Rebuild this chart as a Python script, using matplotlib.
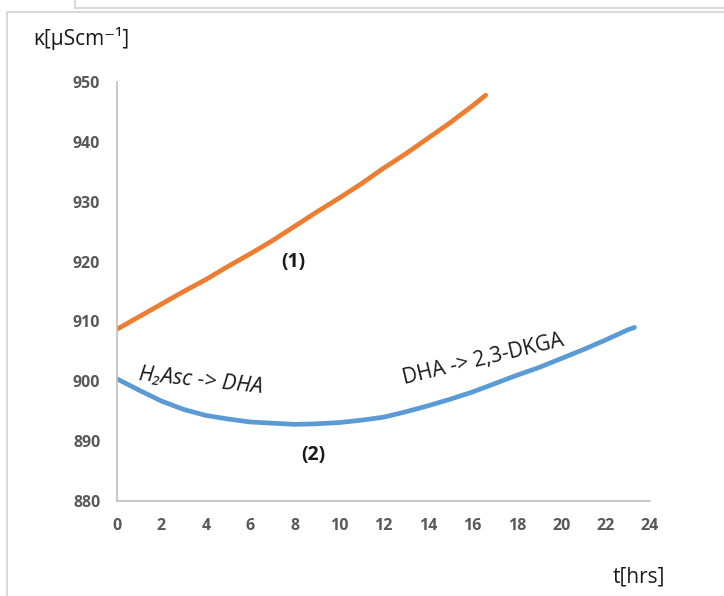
import matplotlib
matplotlib.use("Agg")
import matplotlib.pyplot as plt
from matplotlib.lines import Line2D

# series (1)
t1 = [0, 1, 2, 3, 4, 5, 6, 7, 8, 9, 10, 11, 12, 13, 14, 15, 16, 16.6]
k1 = [908.7, 910.8, 912.9, 915.0, 917.0, 919.2, 921.3, 923.5, 925.9, 928.3,
      930.6, 933.0, 935.6, 938.0, 940.6, 943.2, 946.0, 947.8]

# series (2)
t2 = [0, 1, 2, 3, 4, 5, 6, 7, 8, 9, 10, 11, 12, 13, 14, 15, 16, 17, 18, 19,
      20, 21, 22, 23, 23.3]
k2 = [900.4, 898.5, 896.7, 895.3, 894.3, 893.7, 893.2, 893.0, 892.8, 892.9,
      893.1, 893.5, 894.0, 894.9, 895.9, 897.0, 898.2, 899.6, 901.0, 902.3,
      903.8, 905.3, 906.9, 908.6, 909.0]

x_ticks = list(range(0, 25, 2))
y_ticks = list(range(880, 951, 10))

FONT = ["Open Sans", "DejaVu Sans"]
plt.rcParams["font.family"] = FONT

W, H = 724, 596
fig = plt.figure(figsize=(W / 100, H / 100), dpi=100)


def px(x, y):
    return x / W, 1 - y / H


# frame lines of the surrounding boxes
border = "#d9d9d9"
for xs, ys in [([7, 7, W + 5], [H + 5, 12, 12]), ([75, 75, W + 5], [0, 8, 8])]:
    fx = [x / W for x in xs]
    fy = [1 - y / H for y in ys]
    fig.add_artist(Line2D(fx, fy, color=border, lw=1.5, transform=fig.transFigure))

ax = fig.add_axes([117 / W, 1 - 501 / H, (650 - 117) / W, (501 - 82) / H])
ax.plot(t1, k1, color="#ED7D31", lw=3.4, solid_capstyle="round")
ax.plot(t2, k2, color="#5B9BD5", lw=3.4, solid_capstyle="round")

ax.set_xlim(0, 24)
ax.set_ylim(880, 950)
ax.set_xticks(x_ticks)
ax.set_yticks(y_ticks)
for s in ["top", "right"]:
    ax.spines[s].set_visible(False)
for s in ["left", "bottom"]:
    ax.spines[s].set_color("#bfbfbf")
    ax.spines[s].set_linewidth(1.2)
ax.tick_params(axis="x", length=0, pad=12, labelsize=11.5, labelcolor="#595959")
ax.tick_params(axis="y", length=0, pad=12, labelsize=11.5, labelcolor="#595959")
for lab in ax.get_xticklabels() + ax.get_yticklabels():
    lab.set_fontweight("bold")

ax.text(7.93, 919.9, "(1)", ha="center", va="center", fontsize=14,
        fontweight="bold", color="#1a1a1a")
ax.text(8.83, 887.7, "(2)", ha="center", va="center", fontsize=14,
        fontweight="bold", color="#1a1a1a")
ax.text(3.75, 900.0, "H\u2082Asc -> DHA", ha="center", va="center", fontsize=15.5,
        style="italic", rotation=-6, color="#1a1a1a", rotation_mode="anchor")
ax.text(16.5, 903.6, "DHA -> 2,3-DKGA", ha="center", va="center", fontsize=15,
        rotation=13.5, color="#1a1a1a", rotation_mode="anchor")

fig.text(*px(33, 38), "\u03ba[\u03bcScm\u207b\u00b9]", ha="left", va="center",
         fontsize=15, color="#1a1a1a")
fig.text(*px(665, 577), "t[hrs]", ha="right", va="center", fontsize=15,
         color="#1a1a1a")

fig.savefig("out.png", dpi=100)
